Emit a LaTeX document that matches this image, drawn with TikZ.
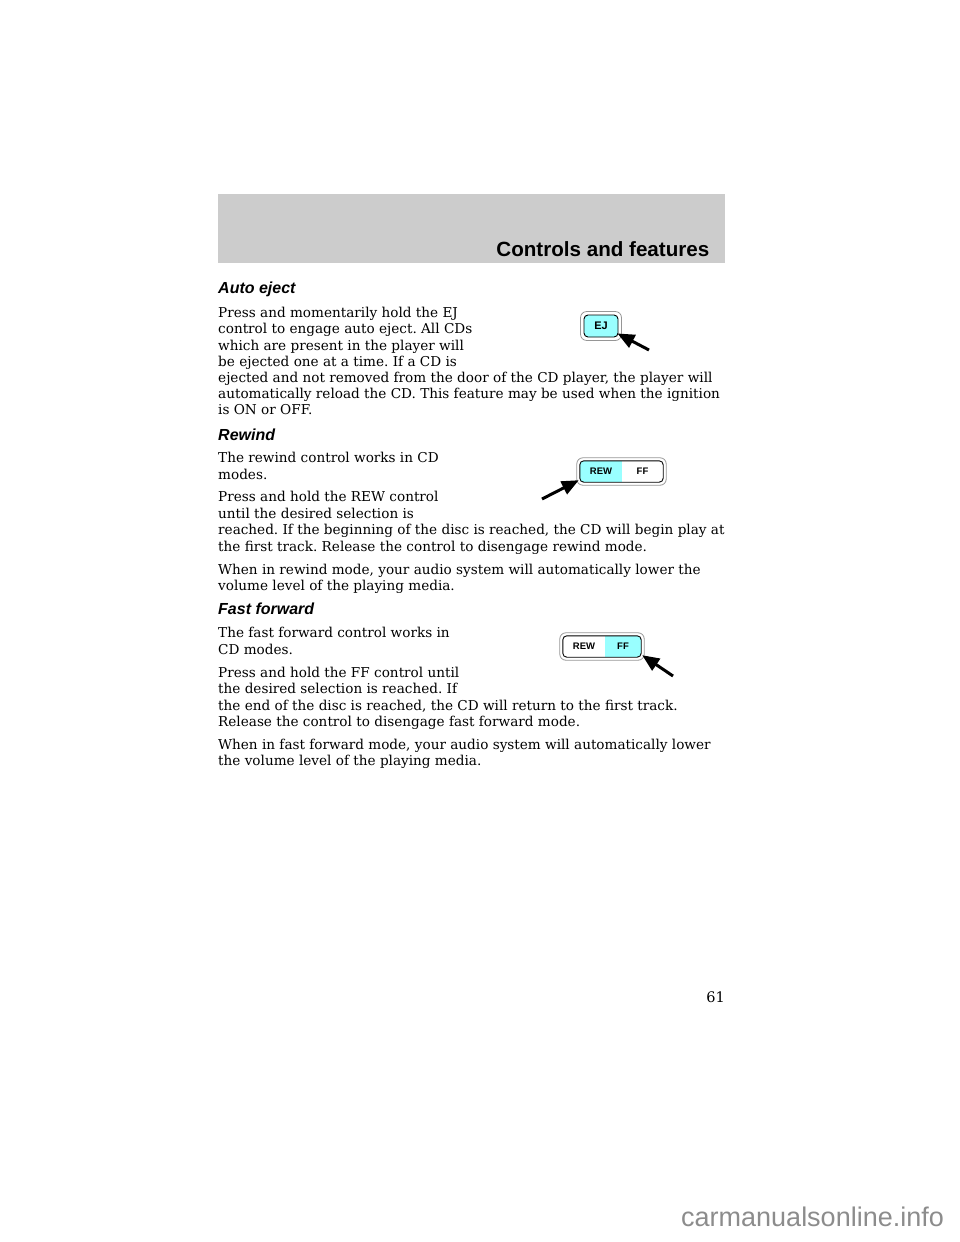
\documentclass[tikz,border=0pt]{standalone}
\usepackage{fontspec}
\setmainfont{DejaVu Serif}
\setsansfont{Liberation Sans}
\usetikzlibrary{arrows.meta}
\pgfdeclarelayer{back}
\pgfsetlayers{back,main}
\frenchspacing

\definecolor{bandgray}{RGB}{204,204,204}
\definecolor{btncyan}{RGB}{153,255,255}
\definecolor{ringgray}{RGB}{150,150,150}
\definecolor{markgray}{RGB}{140,140,140}

\tikzset{
	body/.style={anchor=base west, inner sep=0pt, font=\fontsize{13.6}{16}\selectfont},
	head/.style={anchor=base west, inner sep=0pt, font=\sffamily\bfseries\itshape\fontsize{16}{19}\selectfont},
	lbl/.style={inner sep=0pt, font=\sffamily\bfseries\fontsize{9.5}{11}\selectfont},
	rim/.style={draw=black, line width=.9pt, rounded corners=4pt},
	ring/.style={draw=ringgray, line width=.8pt, rounded corners=6pt},
	pointer/.style={-{Triangle[length=17pt,width=14pt]}, line width=3pt}
}

\begin{document}
\begin{tikzpicture}[x=1pt,y=-1pt]
	\useasboundingbox (0,0) rectangle (960,1242);
	
	% header band
	\fill[bandgray] (218,194) rectangle (725,263);
	\node[anchor=base east, inner sep=0pt, font=\sffamily\bfseries\fontsize{20.6}{24}\selectfont] (title) at (709.5,256) {Controls and features};
	
	% auto eject
	\node[head] (aehead) at (218,293) {Auto eject};
	\node[body] (ae1) at (218,317) {Press and momentarily hold the EJ};
	\node[body] (ae2) at (218,333.5) {control to engage auto eject. All CDs};
	\node[body] (ae3) at (218,350) {which are present in the player will};
	\node[body] (ae4) at (218,366) {be ejected one at a time. If a CD is};
	\node[body] (ae5) at (218,382) {ejected and not removed from the door of the CD player, the player will};
	\node[body] (ae6) at (218,398) {automatically reload the CD. This feature may be used when the ignition};
	\node[body] (ae7) at (218,414.5) {is ON or OFF.};
	
	\node[lbl, fill=btncyan, rim, minimum width=34pt, minimum height=22pt, font=\sffamily\bfseries\fontsize{11}{12}\selectfont] (ej) at (601,326) {EJ};
	\draw[ring] ([xshift=-3pt,yshift=3pt]ej.north west) rectangle ([xshift=3pt,yshift=-3pt]ej.south east);
	\coordinate (ejtail) at (649,350);
	\draw[pointer] (ejtail) -- ([xshift=-1pt,yshift=4pt]ej.south east);
	
	% rewind
	\node[head] (rwhead) at (218,440) {Rewind};
	\node[body] (rw1) at (218,462) {The rewind control works in CD};
	\node[body] (rw2) at (218,479) {modes.};
	\node[body] (rw3) at (218,501.5) {Press and hold the REW control};
	\node[body] (rw4) at (218,518) {until the desired selection is};
	\node[body] (rw5) at (218,534.5) {reached. If the beginning of the disc is reached, the CD will begin play at};
	\node[body] (rw6) at (218,551) {the first track. Release the control to disengage rewind mode.};
	\node[body] (rw7) at (218,574) {When in rewind mode, your audio system will automatically lower the};
	\node[body] (rw8) at (218,590.5) {volume level of the playing media.};
	
	\node[lbl, minimum width=42pt, minimum height=21pt] (rewa) at (601,471.5) {REW};
	\node[lbl, minimum width=41pt, minimum height=21pt] (ffa) at (642.5,471.5) {FF};
	\begin{pgfonlayer}{back}
		\begin{scope}
			\clip[rounded corners=4pt] (rewa.north west) rectangle (ffa.south east);
			\fill[btncyan] (rewa.north west) rectangle (rewa.south east);
		\end{scope}
	\end{pgfonlayer}
	\draw[rim] (rewa.north west) rectangle (ffa.south east);
	\draw[ring] ([xshift=-3pt,yshift=3pt]rewa.north west) rectangle ([xshift=3pt,yshift=-3pt]ffa.south east);
	\coordinate (rwtail) at (542,499);
	\draw[pointer] (rwtail) -- ([xshift=-1pt,yshift=2pt]rewa.south west);
	
	% fast forward
	\node[head] (ffhead) at (218,614) {Fast forward};
	\node[body] (ff1) at (218,637.5) {The fast forward control works in};
	\node[body] (ff2) at (218,654) {CD modes.};
	\node[body] (ff3) at (218,677) {Press and hold the FF control until};
	\node[body] (ff4) at (218,693.5) {the desired selection is reached. If};
	\node[body] (ff5) at (218,710) {the end of the disc is reached, the CD will return to the first track.};
	\node[body] (ff6) at (218,726) {Release the control to disengage fast forward mode.};
	\node[body] (ff7) at (218,749) {When in fast forward mode, your audio system will automatically lower};
	\node[body] (ff8) at (218,765.5) {the volume level of the playing media.};
	
	\node[lbl, minimum width=42pt, minimum height=21pt] (rewb) at (584,646.5) {REW};
	\node[lbl, minimum width=36pt, minimum height=21pt] (ffb) at (623,646.5) {FF};
	\begin{pgfonlayer}{back}
		\begin{scope}
			\clip[rounded corners=4pt] (rewb.north west) rectangle (ffb.south east);
			\fill[btncyan] (ffb.north west) rectangle (ffb.south east);
		\end{scope}
	\end{pgfonlayer}
	\draw[rim] (rewb.north west) rectangle (ffb.south east);
	\draw[ring] ([xshift=-3pt,yshift=3pt]rewb.north west) rectangle ([xshift=3pt,yshift=-3pt]ffb.south east);
	\coordinate (fftail) at (673,676);
	\draw[pointer] (fftail) -- ([xshift=1pt,yshift=2pt]ffb.south east);
	
	% page number and mark
	\node[anchor=base east, inner sep=0pt, font=\fontsize{14.5}{16}\selectfont] (pageno) at (725,1002) {61};
	\node[anchor=base west, inner sep=0pt, text=markgray, font=\sffamily\fontsize{27}{30}\selectfont] (mark) at (681,1226) {carmanualsonline.info};
\end{tikzpicture}
\end{document}
